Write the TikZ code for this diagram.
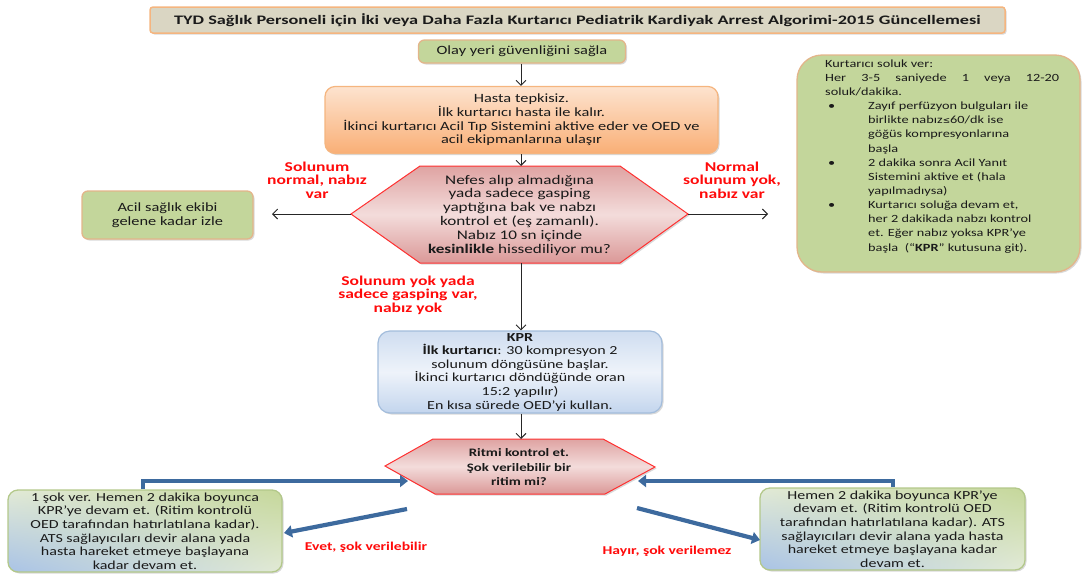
\documentclass[tikz,border=0pt]{standalone}
\usepackage{fontspec}
\setmainfont{Carlito}[FakeStretch=1.3]
\newfontfamily\dejavu{DejaVu Sans}[Scale=0.8]
\usetikzlibrary{arrows.meta,shadows,shadings}
\definecolor{txt}{HTML}{1A1A1A}
\definecolor{lbl}{HTML}{FF0A0A}
\definecolor{titlefill}{HTML}{DAD6C3}
\definecolor{orangeedge}{HTML}{F5B57F}
\definecolor{greenfill}{HTML}{C3D69B}
\definecolor{tanedge}{HTML}{E3B58A}
\definecolor{hastaTop}{HTML}{FDE3CF}
\definecolor{hastaBot}{HTML}{F9AF76}
\definecolor{decTop}{HTML}{DFA3A2}
\definecolor{decMid}{HTML}{F3DCDB}
\definecolor{decBot}{HTML}{DB9897}
\definecolor{decred}{HTML}{FF3030}
\definecolor{kprTop}{HTML}{CFDDF0}
\definecolor{kprMid}{HTML}{EEF3FA}
\definecolor{kprBot}{HTML}{C3D5ED}
\definecolor{kpredge}{HTML}{A3BDDC}
\definecolor{mixBlue}{HTML}{A9C3E6}
\definecolor{mixGreen}{HTML}{C5D79A}
\definecolor{mixPale}{HTML}{E2EAD6}
\definecolor{mixedge}{HTML}{B3C88A}
\definecolor{arrblue}{HTML}{3D6A9E}
\definecolor{thin}{HTML}{262626}
\newcommand\fs{\fontsize{12.6}{13.6}\selectfont}
\newcommand\fsk{\fontsize{12.3}{13.6}\selectfont}
\newcommand\fsd{\fontsize{13.2}{13.8}\selectfont}
\newcommand\fsrit{\fontsize{11.4}{14.5}\selectfont}
\newcommand\fsr{\fontsize{11}{14.15}\selectfont}
\newcommand\fsl{\fontsize{13.5}{13.6}\selectfont}
\newcommand\fslb{\fontsize{12}{13.6}\selectfont}
\begin{document}
\begin{tikzpicture}[x=1pt,y=-1pt,
  shadowed/.style={drop shadow={shadow xshift=1.5pt,shadow yshift=-1.5pt,opacity=0.3}},
  basebox/.style={shadowed, align=center, inner sep=2pt, font=\fs, text=txt},
  titlebox/.style={basebox, draw=orangeedge, line width=1.5pt, fill=titlefill, rounded corners=3pt},
  greenbox/.style={basebox, draw=tanedge, line width=1.3pt, fill=greenfill, rounded corners=6pt},
  hastabox/.style={basebox, draw=orangeedge, line width=1.2pt, top color=hastaTop, bottom color=hastaBot, rounded corners=10pt},
  kprbox/.style={basebox, font=\fsk, draw=kpredge, line width=1.2pt, top color=kprTop, bottom color=kprBot, middle color=kprMid, rounded corners=12pt},
  mixbox/.style={basebox, font=\fsk, draw=mixedge, line width=1.3pt, rounded corners=10pt,
     upper left=mixPale, upper right=mixGreen, lower left=mixBlue, lower right=mixPale},
  decshape/.style={shadowed, draw=decred, line width=1pt, top color=decTop, bottom color=decBot, middle color=decMid},
  redlabel/.style={align=center, font=\fsl\bfseries, text=lbl, inner sep=0pt},
  redlabelb/.style={redlabel, font=\fslb\bfseries},
  thinarrow/.style={draw=thin, line width=0.9pt, -{Straight Barb[length=5pt,width=10pt]}},
  bluearrow/.style={draw=arrblue, line width=4.2pt, -{Triangle[length=8pt,width=12pt]}}
]
\useasboundingbox (0,0) rectangle (1083,573);

% title
\node[titlebox, minimum width=855pt, minimum height=26pt] (title) at (577.5,20)
  {\fontsize{13}{15}\selectfont\bfseries\scalebox{1.08}[1]{TYD Sağlık Personeli için İki veya Daha Fazla Kurtarıcı Pediatrik Kardiyak Arrest Algorimi-2015 Güncellemesi}};

% scene safety
\node[greenbox, minimum width=207pt, minimum height=23pt] (olay) at (522,51.5) {Olay yeri güvenliğini sağla};

% unresponsive
\node[hastabox, minimum width=393pt, minimum height=67pt] (hasta) at (521.5,120)
  {Hasta tepkisiz.\\ İlk kurtarıcı hasta ile kalır.\\ İkinci kurtarıcı Acil Tıp Sistemini aktive eder ve OED ve\\ acil ekipmanlarına ulaşır};

% decision 1
\path[decshape] (351,214) -- (420,166) -- (620,166) -- (688,214) -- (620,263) -- (420,263) -- cycle;
\coordinate (decN) at (521,166);
\coordinate (decS) at (521,263);
\coordinate (decW) at (351,214);
\coordinate (decE) at (688,214);
\node[align=center, font=\fsd, text=txt, inner sep=0pt] (dec) at (519.5,215)
  {Nefes alıp almadığına\\ yada sadece gasping\\ yaptığına bak ve nabzı\\ kontrol et (eş zamanlı).\\ Nabız 10 sn içinde\\ \textbf{kesinlikle} hissediliyor mu?};

% left outcome
\node[greenbox, minimum width=171pt, minimum height=48pt] (acil) at (167.5,215) {Acil sağlık ekibi\\ gelene kadar izle};

% right box
\node[greenbox, rounded corners=25pt, minimum width=283pt, minimum height=217pt] (rbox) at (938.5,163.5) {};
\node[anchor=north west, inner sep=0pt, font=\fsr, text=txt] (rtxt) at (825,57) {%
\begin{tabular}{@{}p{43pt}@{}l@{}}
\multicolumn{2}{@{}l@{}}{Kurtarıcı soluk ver:}\\
\multicolumn{2}{@{}l@{}}{\makebox[234pt][s]{Her 3-5 saniyede 1 veya 12-20}}\\
\multicolumn{2}{@{}l@{}}{soluk/dakika.}\\
\hspace*{3pt}\textbullet & Zayıf perfüzyon bulguları ile\\
 & birlikte nabız{\dejavu ≤}60/dk ise\\
 & göğüs kompresyonlarına\\
 & başla\\
\hspace*{3pt}\textbullet & 2 dakika sonra Acil Yanıt\\
 & Sistemini aktive et (hala\\
 & yapılmadıysa)\\
\hspace*{3pt}\textbullet & Kurtarıcı soluğa devam et,\\
 & her 2 dakikada nabzı kontrol\\
 & et. Eğer nabız yoksa KPR’ye\\
 & başla\ \ (“\textbf{KPR}” kutusuna git).
\end{tabular}};

% KPR
\node[kprbox, minimum width=284pt, minimum height=82pt] (kpr) at (520,372)
  {\textbf{KPR}\\ \textbf{İlk kurtarıcı}: 30 kompresyon 2\\ solunum döngüsüne başlar.\\ İkinci kurtarıcı döndüğünde oran\\ 15:2 yapılır)\\ En kısa sürede OED’yi kullan.};

% decision 2
\path[decshape] (385,466) -- (433,439) -- (603,439) -- (655,467) -- (605,494) -- (435,494) -- cycle;
\coordinate (ritN) at (521,439);
\node[align=center, font=\fsrit\bfseries, text=txt, inner sep=0pt] (rit) at (519,467.5)
  {Ritmi kontrol et.\\ Şok verilebilir bir\\ ritim mi?};

% bottom boxes
\node[mixbox, minimum width=274pt, minimum height=82pt] (lb) at (145,531)
  {1 şok ver. Hemen 2 dakika boyunca\\ KPR’ye devam et. (Ritim kontrolü\\ OED tarafından hatırlatılana kadar).\\ ATS sağlayıcıları devir alana yada\\ hasta hareket etmeye başlayana\\ kadar devam et.};
\node[mixbox, minimum width=265pt, minimum height=82pt] (rb) at (892.5,529)
  {Hemen 2 dakika boyunca KPR’ye\\ devam et. (Ritim kontrolü OED\\ tarafından hatırlatılana kadar). ATS\\ sağlayıcıları devir alana yada hasta\\ hareket etmeye başlayana kadar\\ devam et.};

% thin arrows
\coordinate (lend) at (272,214);
\coordinate (rend) at (768,214);
\draw[thinarrow] (olay.south -| decN) -- (hasta.north -| decN);
\draw[thinarrow] (hasta.south -| decN) -- (decN);
\draw[thinarrow] (decW) -- (lend);
\draw[thinarrow] (decE) -- (rend);
\draw[thinarrow] (decS) -- (kpr.north -| decS);
\draw[thinarrow] (kpr.south -| ritN) -- (ritN);

% red labels
\node[redlabel] (l1) at (317,180) {Solunum\\ normal, nabız\\ var};
\node[redlabel] (l2) at (732,180) {Normal\\ solunum yok,\\ nabız var};
\node[redlabel] (l3) at (408,295) {Solunum yok yada\\ sadece gasping var,\\ nabız yok};
\node[redlabelb] (l4) at (366,547) {Evet, şok verilebilir};
\node[redlabelb] (l5) at (667,551) {Hayır, şok verilemez};

% thick blue arrows
\coordinate (lbUp) at (143,481);
\coordinate (ritWin) at (408,481);
\coordinate (rbUp) at (893,481);
\coordinate (ritEin) at (638,481);
\coordinate (yesS) at (407,509);
\coordinate (yesE) at (284,533);
\coordinate (noS) at (637,508);
\coordinate (noE) at (760,540);
\draw[bluearrow] (lb.north -| lbUp) -- (lbUp) -- (ritWin);
\draw[bluearrow] (rb.north -| rbUp) -- (rbUp) -- (ritEin);
\draw[bluearrow] (yesS) -- (yesE);
\draw[bluearrow] (noS) -- (noE);
\end{tikzpicture}
\end{document}
